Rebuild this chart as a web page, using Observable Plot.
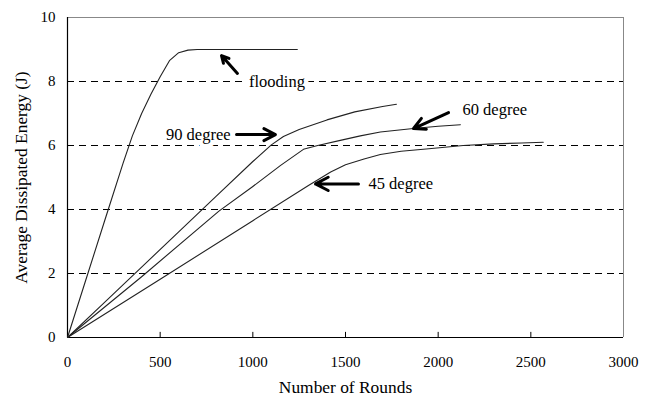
<!DOCTYPE html>
<html><head><meta charset="utf-8">
<script src="https://cdn.jsdelivr.net/npm/d3@7"></script>
<script src="https://cdn.jsdelivr.net/npm/@observablehq/plot@0.6"></script>
<style>body{margin:0;background:#fff} svg{display:block} svg text{font-family:"Liberation Serif","Times New Roman",serif !important}</style>
</head><body><div id="chart"></div>
<script>
const xTicks = [0, 500, 1000, 1500, 2000, 2500, 3000];
const yTicks = [0, 2, 4, 6, 8, 10];
const gridY = [2, 4, 6, 8];

const floodingRounds = [0, 100, 200, 300, 350, 400, 450, 500, 550, 600, 650, 700, 1240];
const floodingEnergy = [0, 1.82, 3.64, 5.45, 6.3, 7.0, 7.6, 8.15, 8.65, 8.9, 8.98, 9.0, 9.0];

const deg90Rounds = [0, 200, 400, 600, 800, 1000, 1100, 1165, 1250, 1400, 1550, 1700, 1775];
const deg90Energy = [0, 1.1, 2.2, 3.3, 4.4, 5.5, 6.02, 6.28, 6.5, 6.8, 7.05, 7.22, 7.29];

const deg60Rounds = [0, 400, 817, 1000, 1150, 1273, 1350, 1472, 1580, 1688, 1866, 2000, 2120];
const deg60Energy = [0, 1.9, 3.95, 4.72, 5.38, 5.88, 6.0, 6.16, 6.3, 6.42, 6.53, 6.6, 6.65];

const deg45Rounds = [0, 500, 1000, 1300, 1420, 1500, 1600, 1688, 1800, 1950, 2135, 2300, 2450, 2567];
const deg45Energy = [0, 1.82, 3.65, 4.75, 5.17, 5.4, 5.58, 5.72, 5.82, 5.9, 6.0, 6.05, 6.08, 6.1];

const labelNames = ["flooding", "90 degree", "60 degree", "45 degree"];
const labelX = [1130, 880, 2131, 1624];
const labelY = [8.0, 6.34, 7.125, 4.8];
const labelAnchor = ["middle", "end", "start", "start"];

const arrowX1 = [917, 912, 2056, 1570];
const arrowY1 = [8.25, 6.34, 7.03, 4.8];
const arrowX2 = [831, 1122, 1867, 1338];
const arrowY2 = [8.81, 6.34, 6.53, 4.8];

function toRows(name, xs, ys) { return xs.map((x, i) => ({series: name, x, y: ys[i]})); }
const data = [
  ...toRows("flooding", floodingRounds, floodingEnergy),
  ...toRows("90", deg90Rounds, deg90Energy),
  ...toRows("60", deg60Rounds, deg60Energy),
  ...toRows("45", deg45Rounds, deg45Energy)
];
const labels = labelNames.map((t, i) => ({t, x: labelX[i], y: labelY[i], a: labelAnchor[i]}));
const arrows = arrowX1.map((x1, i) => ({x1, y1: arrowY1[i], x2: arrowX2[i], y2: arrowY2[i]}));

const font = "Liberation Serif";
const labelMark = (anchor) => Plot.text(labels.filter(d => d.a === anchor), {
  x: "x", y: "y", text: "t", textAnchor: anchor, fontSize: 16.5, fontFamily: font,
  fill: "#000", stroke: "#fff", strokeWidth: 9
});

const chart = Plot.plot({
  width: 655, height: 399,
  marginLeft: 67, marginRight: 32, marginTop: 17, marginBottom: 62,
  x: {domain: [0, 3000]},
  y: {domain: [0, 10]},
  style: {background: "#fff", color: "#000"},
  marks: [
    Plot.ruleY(gridY, {stroke: "#000", strokeWidth: 1, strokeDasharray: "7,5"}),
    Plot.ruleY([10], {stroke: "#888", strokeWidth: 1}),
    Plot.ruleX([3000], {stroke: "#888", strokeWidth: 1}),
    Plot.ruleX(xTicks.slice(1, -1), {x: d => d, y1: 0, y2: 0.16, stroke: "#000"}),
    Plot.ruleY([0], {stroke: "#000", strokeWidth: 1.2}),
    Plot.ruleX([0], {stroke: "#000", strokeWidth: 1.2}),
    Plot.axisX({ticks: xTicks, tickSize: 0, tickPadding: 19, fontSize: 15, fontFamily: font, label: null, tickFormat: d => String(d)}),
    Plot.axisY({ticks: yTicks, tickSize: 0, tickPadding: 12, fontSize: 15, fontFamily: font, label: null, tickFormat: d => String(d)}),
    Plot.text(["Number of Rounds"], {frameAnchor: "bottom", dy: 55, fontSize: 17.4, fontFamily: font, text: d => d}),
    Plot.text(["Average Dissipated Energy (J)"], {frameAnchor: "left", textAnchor: "middle", dx: -46, rotate: -90, fontSize: 17.4, fontFamily: font, text: d => d}),
    labelMark("middle"),
    labelMark("end"),
    labelMark("start"),
    Plot.line(data, {x: "x", y: "y", z: "series", stroke: "#222", strokeWidth: 1.1}),
    Plot.arrow(arrows, {x1: "x1", y1: "y1", x2: "x2", y2: "y2", stroke: "#000", strokeWidth: 3, headLength: 10, headAngle: 55})
  ]
});
document.getElementById("chart").appendChild(chart);
</script>
</body></html>
